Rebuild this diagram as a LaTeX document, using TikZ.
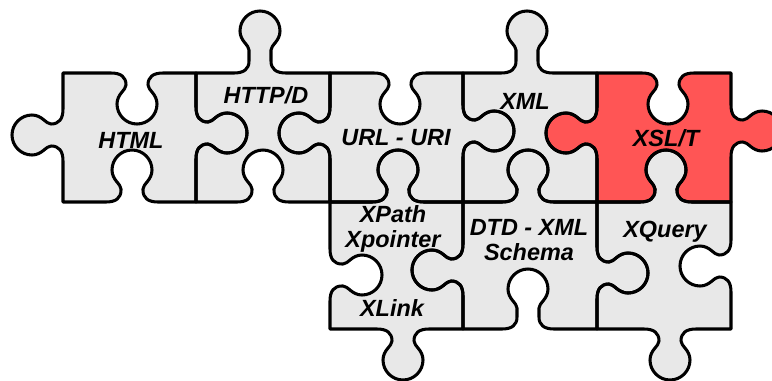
\documentclass[tikz,border=0pt]{standalone}
\usepackage{fontspec}
\newfontfamily\lab{Liberation Sans}
\definecolor{pgray}{HTML}{E8E8E8}
\definecolor{pred}{HTML}{FF5555}

\def\jpt#1#2{%
  \pgfmathsetmacro\jx{\jcx+(\jux)*(#1)+(\jnx)*(#2)}%
  \pgfmathsetmacro\jy{\jcy+(\juy)*(#1)+(\jny)*(#2)}%
  \edef\jres{(\jx,\jy)}}
\def\jadd#1{\edef\jacc{\jacc #1}}
\newcommand\mkedge[7]{%
  \ifnum#6=0\relax
    \edef\jacc{\jacc -- (#3,#4)}%
  \else
    \pgfmathsetmacro\jux{(#3-(#1))/(abs(#3-(#1))+abs(#4-(#2)))}%
    \pgfmathsetmacro\juy{(#4-(#2))/(abs(#3-(#1))+abs(#4-(#2)))}%
    \pgfmathsetmacro\jcx{#1+abs(\jux)*(#5-(#1))}%
    \pgfmathsetmacro\jcy{#2+abs(\juy)*(#5-(#2))}%
    \pgfmathsetmacro\jnx{abs(\juy)*(#6)}%
    \pgfmathsetmacro\jny{abs(\jux)*(#6)}%
    \def\je{#7}%
    \jpt{-26}{0}\jadd{ -- \jres}%
    \jpt{-16}{0}\jadd{ .. controls \jres}%
    \jpt{-11}{4}\jadd{ and \jres}%
    \jpt{-11}{12}\jadd{ .. \jres}%
    \jpt{-11}{12+\je}\jadd{ -- \jres}%
    \jpt{-11}{17+\je}\jadd{ .. controls \jres}%
    \jpt{-20}{21+\je}\jadd{ and \jres}%
    \jpt{-20}{31+\je}\jadd{ .. \jres}%
    \jpt{-20}{42+\je}\jadd{ .. controls \jres}%
    \jpt{-11}{51+\je}\jadd{ and \jres}%
    \jpt{0}{51+\je}\jadd{ .. \jres}%
    \jpt{11}{51+\je}\jadd{ .. controls \jres}%
    \jpt{20}{42+\je}\jadd{ and \jres}%
    \jpt{20}{31+\je}\jadd{ .. \jres}%
    \jpt{20}{21+\je}\jadd{ .. controls \jres}%
    \jpt{11}{17+\je}\jadd{ and \jres}%
    \jpt{11}{12+\je}\jadd{ .. \jres}%
    \jpt{11}{12}\jadd{ -- \jres}%
    \jpt{11}{4}\jadd{ .. controls \jres}%
    \jpt{16}{0}\jadd{ and \jres}%
    \jpt{26}{0}\jadd{ .. \jres}%
    \edef\jacc{\jacc -- (#3,#4)}%
  \fi}
\def\jspec#1#2#3#4#5/#6/#7\relax{\mkedge{#1}{#2}{#3}{#4}{#5}{#6}{#7}}
\newcommand\piece[9]{%
  \edef\jacc{(#2,#3)}%
  \jspec{#2}{#3}{#4}{#3}#6\relax
  \jspec{#4}{#3}{#4}{#5}#7\relax
  \jspec{#4}{#5}{#2}{#5}#8\relax
  \jspec{#2}{#5}{#2}{#3}#9\relax
  \edef\jacc{\jacc -- cycle}%
  \global\let#1\jacc}

% columns 63 196 330 463 597 731 ; rows 73 202 329
\piece\pA{63}{73}{196}{202}{137/1/0}{133/1/0}{132/-1/1}{135/-1/0}
\piece\pB{196}{73}{330}{202}{260/-1/11}{133/-1/0}{263/-1/1}{133/1/0}
\piece\pC{330}{73}{463}{202}{400/1/0}{131/1/0}{398/-1/1}{133/-1/0}
\piece\pD{463}{73}{597}{202}{527/-1/11}{133/-1/0}{528/-1/1}{131/1/0}
\piece\pE{597}{73}{731}{202}{668/1/0}{131/1/0}{666/-1/1}{133/-1/0}
\piece\pF{330}{202}{463}{329}{398/-1/1}{270/-1/0}{403/1/0}{275/1/1}
\piece\pG{463}{202}{597}{329}{528/-1/1}{273/1/0}{528/-1/9}{270/-1/0}
\piece\pH{597}{202}{731}{329}{666/-1/1}{266/-1/0}{670/1/0}{273/1/0}

\begin{document}
\begin{tikzpicture}[x=0.03cm,y=-0.03cm,
  outline/.style={line width=2.6pt, line join=round, draw=black},
  lbl/.style={font=\lab\bfseries\itshape\fontsize{20}{22}\selectfont, inner sep=0pt, align=center}]
\clip (0,0) rectangle (772,380);
\fill[pgray] \pA;
\fill[pgray] \pB;
\fill[pgray] \pC;
\fill[pgray] \pD;
\fill[pred] \pE;
\fill[pgray] \pF;
\fill[pgray] \pG;
\fill[pgray] \pH;
\draw[outline] \pA;
\draw[outline] \pB;
\draw[outline] \pC;
\draw[outline] \pD;
\draw[outline] \pE;
\draw[outline] \pF;
\draw[outline] \pG;
\draw[outline] \pH;
\node[lbl] (html) at (131,140) {HTML};
\node[lbl] (http) at (266,95) {HTTP/D};
\node[lbl] (url) at (396,138) {URL - URI};
\node[lbl] (xml) at (525,101) {XML};
\node[lbl] (xsl) at (666,138) {XSL/T};
\node[lbl] (xpath) at (393,229) {XPath\\Xpointer};
\node[lbl] (xlink) at (392,308) {XLink};
\node[lbl] (dtd) at (529,240) {DTD - XML\\Schema};
\node[lbl] (xquery) at (665,232) {XQuery};
\end{tikzpicture}
\end{document}
